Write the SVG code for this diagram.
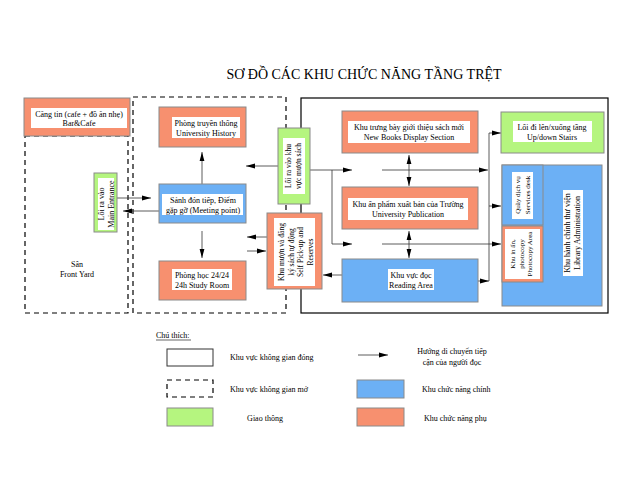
<svg xmlns="http://www.w3.org/2000/svg" width="620" height="496" viewBox="0 0 620 496">
<defs>
<marker id="ah" markerWidth="9" markerHeight="6" refX="9" refY="3" orient="auto-start-reverse" markerUnits="userSpaceOnUse"><path d="M0,0.6 L9,3 L0,5.4 z" fill="#000"/></marker>
<style>
text{font-family:"Liberation Serif","Times New Roman",serif;font-size:8px;fill:#000;text-anchor:middle}
.title{font-size:14px}
.sm{font-size:7px}
.md{font-size:7.5px}
.lg{text-anchor:start}
.sal{fill:#f7906f;stroke:#8a8a8a;stroke-width:1}
.blu{fill:#6cb0f5;stroke:#8a8a8a;stroke-width:1}
.grn{fill:#b5f57f;stroke:#8a8a8a;stroke-width:1}
.wb{fill:#fff;stroke:none}
.dash{fill:none;stroke:#000;stroke-width:1.2;stroke-dasharray:5,4}
.solid{fill:none;stroke:#000;stroke-width:1.2}
.cn{fill:none;stroke:#333;stroke-width:0.8}
.arr{marker-end:url(#ah)}
.dbl{marker-start:url(#ah);marker-end:url(#ah)}
</style>
</defs>
<rect width="620" height="496" fill="#fff"/>
<text class="title" x="364" y="79">SƠ ĐỒ CÁC KHU CHỨC NĂNG TẦNG TRỆT</text>

<g id="zones">
<rect class="dash" x="25" y="136" width="103" height="177"/>
<rect class="dash" x="133" y="97" width="153" height="216"/>
<rect class="solid" x="301" y="98" width="307" height="215"/>
</g>

<g id="yard"><text x="77" y="267">Sân</text><text x="77" y="277">Front Yard</text></g>

<g id="cangtin">
<rect class="sal" x="24" y="98" width="106" height="38"/>
<rect class="wb" x="31" y="108" width="96" height="20"/>
<text x="79" y="117">Căng tin (cafe + đồ ăn nhẹ)</text>
<text x="79" y="126">Bar&amp;Cafe</text>
</g>

<g id="connectors">
<line class="cn arr" x1="117" y1="198" x2="151" y2="198"/>
<line class="cn arr" x1="159" y1="211" x2="123" y2="211"/>
<line class="cn arr" x1="202" y1="184" x2="202" y2="152"/>
<line class="cn arr" x1="202" y1="231" x2="202" y2="258"/>
<line class="cn arr" x1="278" y1="166" x2="246" y2="166"/>
<line class="cn arr" x1="267" y1="237" x2="247" y2="237"/>
<line class="cn arr" x1="247" y1="251" x2="266" y2="251"/>
<line class="cn arr" x1="342" y1="275" x2="323" y2="275"/>
<line class="cn arr" x1="310" y1="170" x2="352" y2="170"/>
<line class="cn arr" x1="382" y1="170" x2="488" y2="170"/>
<polyline class="cn arr" points="332,170 332,244 352,244"/>
<line class="cn arr" x1="382" y1="244" x2="501" y2="244"/>
<line class="cn" x1="489" y1="133" x2="489" y2="281"/>
<line class="cn arr" x1="489" y1="133" x2="501" y2="133"/>
<line class="cn arr" x1="489" y1="206" x2="501" y2="206"/>
<line class="cn arr" x1="478" y1="281" x2="489" y2="281"/>
<line class="cn dbl" x1="409" y1="155" x2="409" y2="186"/>
<line class="cn dbl" x1="409" y1="231" x2="409" y2="258"/>
</g>

<g id="entrance">
<rect class="grn" x="94" y="173" width="23" height="59"/>
<rect class="wb" x="98" y="178" width="16" height="52"/>
<text transform="translate(106,204) rotate(-90)"><tspan x="0" y="-2">Lối ra vào</tspan><tspan x="0" y="8">Main Entrance</tspan></text>
</g>

<g id="history">
<rect class="sal" x="159" y="107" width="87" height="40"/>
<rect class="wb" x="172" y="117" width="68" height="21"/>
<text x="206" y="126">Phòng truyền thống</text>
<text x="206" y="136">University History</text>
</g>

<g id="lobby">
<rect class="blu" x="159" y="184" width="87" height="39"/>
<rect class="wb" x="162" y="194" width="81" height="21"/>
<text x="203" y="203">Sảnh đón tiếp, Điểm</text>
<text x="203" y="213">gặp gỡ (Meeting point)</text>
</g>

<g id="studyroom">
<rect class="sal" x="159" y="261" width="87" height="39"/>
<rect class="wb" x="172" y="269" width="60" height="21"/>
<text x="202" y="278">Phòng học 24/24</text>
<text x="202" y="288">24h Study Room</text>
</g>

<g id="borrowentry">
<rect class="grn" x="278" y="128" width="32" height="76"/>
<rect class="wb" x="283" y="138" width="22" height="56"/>
<text class="md" transform="translate(293,166) rotate(-90)"><tspan x="0" y="-2">Lối ra vào khu</tspan><tspan x="0" y="8">vực mượn sách</tspan></text>
</g>

<g id="selfpickup">
<rect class="sal" x="267" y="213" width="55" height="76"/>
<rect class="wb" x="274" y="218" width="41" height="68"/>
<text class="md" transform="translate(295,252) rotate(-90)"><tspan x="0" y="-11">Khu mượn và đăng</tspan><tspan x="0" y="-1.5">ký sách tự động</tspan><tspan x="0" y="8">Self Pick-up and</tspan><tspan x="0" y="17.5">Reserves</tspan></text>
</g>

<g id="newbooks">
<rect class="sal" x="342" y="111" width="136" height="42"/>
<rect class="wb" x="348" y="121" width="122" height="22"/>
<text x="409" y="130">Khu trưng bày giới thiệu sách mới</text>
<text x="409" y="140">New Books Display Section</text>
</g>

<g id="publication">
<rect class="sal" x="342" y="187" width="136" height="42"/>
<rect class="wb" x="348" y="198" width="120" height="22"/>
<text x="408" y="207">Khu ấn phẩm xuất bản của Trường</text>
<text x="408" y="217">University Publication</text>
</g>

<g id="reading">
<rect class="blu" x="342" y="259" width="136" height="43"/>
<rect class="wb" x="388" y="269" width="46" height="21"/>
<text x="411" y="278">Khu vực đọc</text>
<text x="411" y="288">Reading Area</text>
</g>

<g id="stairs">
<rect class="grn" x="501" y="112" width="103" height="41"/>
<rect class="wb" x="513" y="121" width="79" height="21"/>
<text x="552" y="130">Lối đi lên/xuống tầng</text>
<text x="552" y="140">Up/down Stairs</text>
</g>

<g id="admin">
<rect class="blu" x="502" y="165" width="100" height="141"/>
<rect class="wb" x="563" y="190" width="20" height="86"/>
<text transform="translate(572,233) rotate(-90)"><tspan x="0" y="-2">Khu hành chính thư viện</tspan><tspan x="0" y="8">Library Administration</tspan></text>
</g>

<g id="servicedesk">
<rect class="blu" x="502" y="165" width="41" height="60"/>
<rect class="wb" x="512" y="172" width="21" height="47"/>
<text class="sm" transform="translate(522,195) rotate(-90)"><tspan x="0" y="-2">Quầy dịch vụ</tspan><tspan x="0" y="7.5">Services desk</tspan></text>
</g>

<g id="photocopy">
<rect class="sal" x="502" y="226" width="41" height="56"/>
<rect class="wb" x="505" y="229" width="35" height="50"/>
<text class="sm" transform="translate(521,254) rotate(-90)"><tspan x="0" y="-6">Khu in ấn,</tspan><tspan x="0" y="2.5">photocopy</tspan><tspan x="0" y="11">Photocopy Area</tspan></text>
</g>

<g id="legend">
<text class="lg" x="156" y="338">Chú thích:</text>
<line x1="156" y1="340" x2="191" y2="340" stroke="#000" stroke-width="0.6"/>
<rect x="167" y="349" width="46" height="17" fill="#fff" stroke="#333" stroke-width="1"/>
<text class="lg" x="230" y="360">Khu vực không gian đóng</text>
<rect class="dash" x="167" y="380" width="46" height="17" stroke-width="1"/>
<text class="lg" x="230" y="392">Khu vực không gian mở</text>
<rect class="grn" x="167" y="408" width="46" height="18"/>
<text x="265" y="421">Giao thông</text>
<line class="cn arr" x1="358" y1="355" x2="388" y2="355"/>
<text x="452" y="354">Hướng di chuyển tiếp</text>
<text x="452" y="365">cận của người đọc</text>
<rect class="blu" x="357" y="380" width="47" height="18"/>
<text class="lg" x="422" y="392">Khu chức năng chính</text>
<rect class="sal" x="357" y="408" width="47" height="18"/>
<text class="lg" x="424" y="421">Khu chức năng phụ</text>
</g>
</svg>
